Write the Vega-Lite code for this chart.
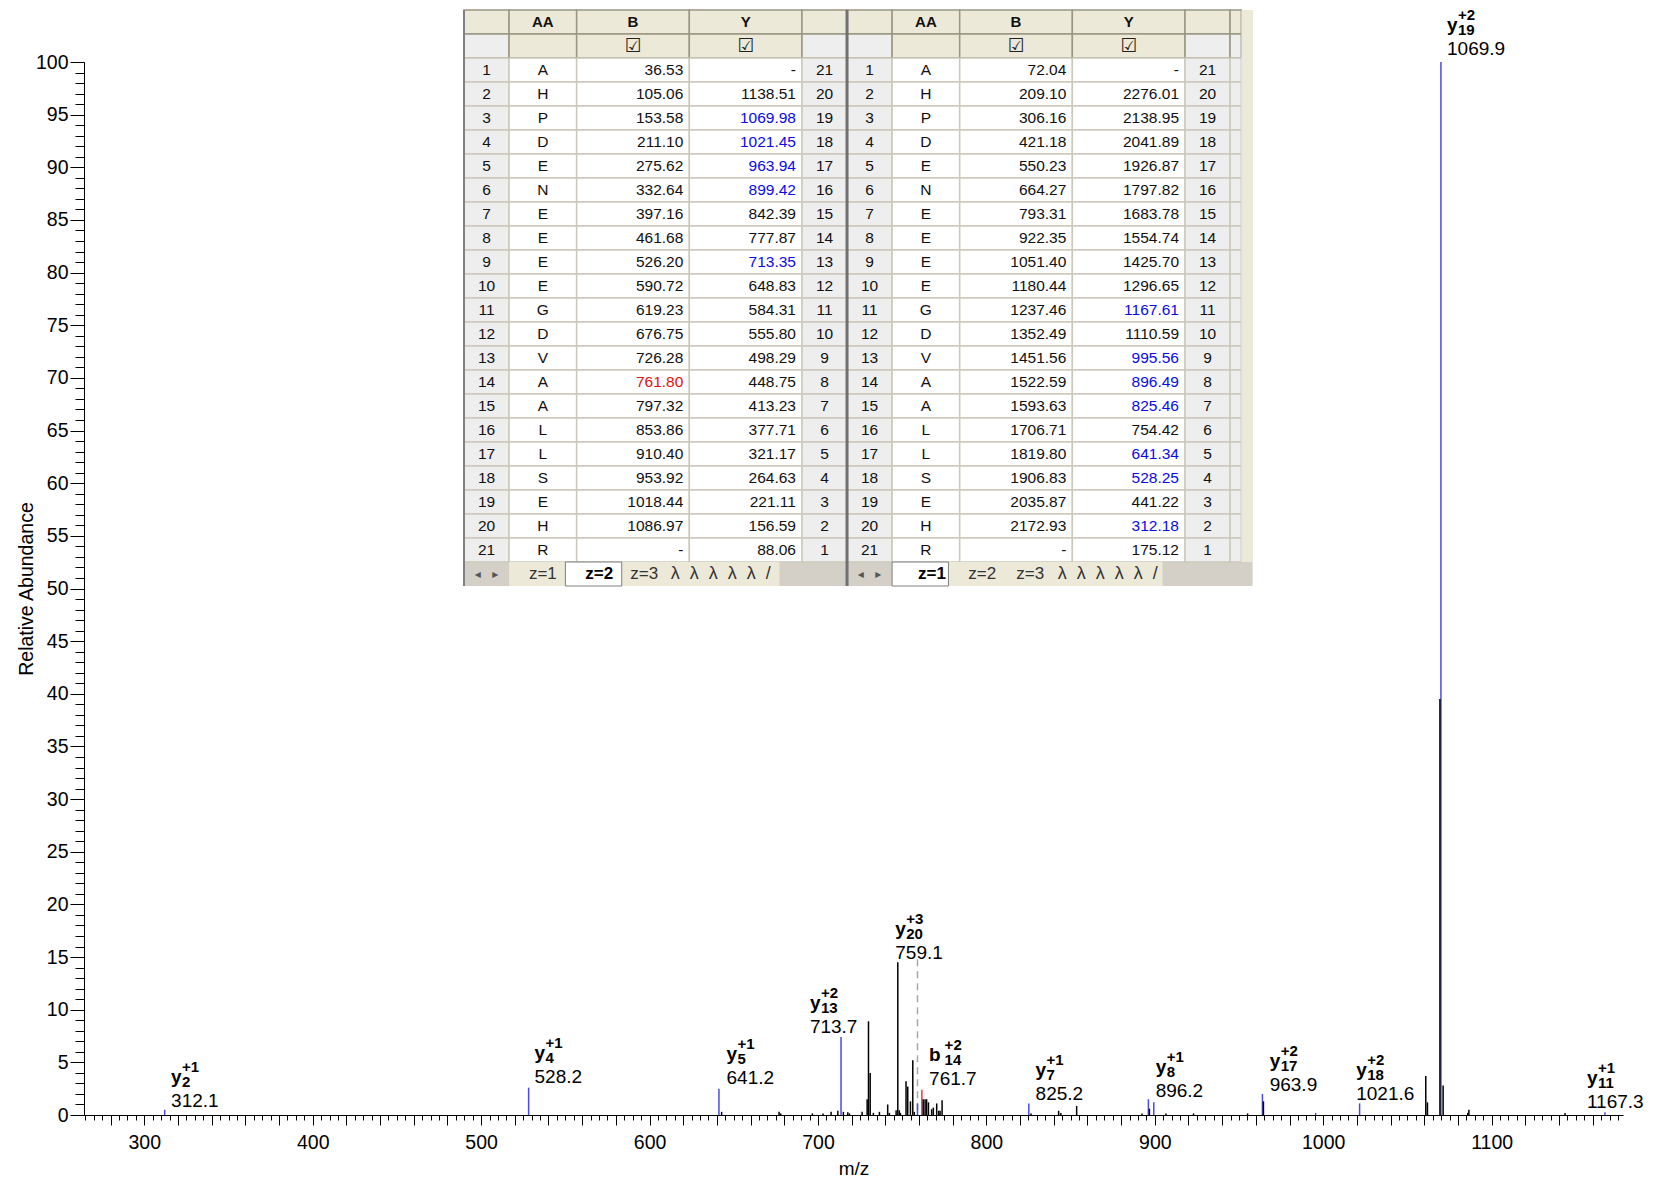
{
"$schema":"https://vega.github.io/schema/vega-lite/v6.json",
"width":1539,"height":1053,
"autosize":{"type":"none"},
"padding":{"left":84,"top":62,"right":30,"bottom":65},
"background":"white",
"config":{"view":{"stroke":null},"text":{"font":"Liberation Sans"}},
"datasets":{
"peaks":[
{"mz":312.1,"ab":0.5,"kind":"y"},{"mz":528.2,"ab":2.6,"kind":"y"},{"mz":641.2,"ab":2.5,"kind":"y"},{"mz":713.7,"ab":7.4,"kind":"y"},{"mz":759.1,"ab":1.1,"kind":"y"},{"mz":825.2,"ab":1.1,"kind":"y"},{"mz":896.2,"ab":1.5,"kind":"y"},{"mz":899.4,"ab":1.2,"kind":"y"},{"mz":963.9,"ab":2.0,"kind":"y"},{"mz":995.5,"ab":0.2,"kind":"y"},{"mz":1021.6,"ab":1.1,"kind":"y"},{"mz":1069.9,"ab":100,"kind":"y"},{"mz":1167.3,"ab":0.25,"kind":"y"},
{"mz":761.7,"ab":2.4,"kind":"b"},
{"mz":642.8,"ab":0.3,"kind":"n"},{"mz":676.9,"ab":0.3,"kind":"n"},{"mz":677.9,"ab":0.15,"kind":"n"},{"mz":696.7,"ab":0.15,"kind":"n"},{"mz":703.0,"ab":0.15,"kind":"n"},{"mz":707.8,"ab":0.3,"kind":"n"},{"mz":711.8,"ab":0.4,"kind":"n"},{"mz":715.1,"ab":0.3,"kind":"n"},{"mz":717.7,"ab":0.25,"kind":"n"},{"mz":718.7,"ab":0.15,"kind":"n"},{"mz":726.2,"ab":0.3,"kind":"n"},{"mz":729.2,"ab":1.5,"kind":"n"},{"mz":730.0,"ab":8.9,"kind":"n"},{"mz":731.0,"ab":4.0,"kind":"n"},{"mz":732.9,"ab":0.2,"kind":"n"},{"mz":736.5,"ab":0.3,"kind":"n"},{"mz":741.4,"ab":1.0,"kind":"n"},{"mz":742.4,"ab":0.2,"kind":"n"},{"mz":746.4,"ab":0.45,"kind":"n"},{"mz":747.4,"ab":14.5,"kind":"n"},{"mz":748.3,"ab":0.45,"kind":"n"},{"mz":749.0,"ab":0.2,"kind":"n"},{"mz":752.3,"ab":3.2,"kind":"n"},{"mz":753.3,"ab":2.7,"kind":"n"},{"mz":754.9,"ab":1.3,"kind":"n"},{"mz":756.3,"ab":5.2,"kind":"n"},{"mz":757.2,"ab":0.3,"kind":"n"},{"mz":762.5,"ab":1.5,"kind":"n"},{"mz":763.6,"ab":1.5,"kind":"n"},{"mz":764.5,"ab":1.5,"kind":"n"},{"mz":765.6,"ab":1.2,"kind":"n"},{"mz":767.5,"ab":0.55,"kind":"n"},{"mz":768.5,"ab":0.7,"kind":"n"},{"mz":770.5,"ab":1.1,"kind":"n"},{"mz":771.7,"ab":0.4,"kind":"n"},{"mz":772.5,"ab":0.4,"kind":"n"},{"mz":773.7,"ab":1.4,"kind":"n"},{"mz":826.5,"ab":0.15,"kind":"n"},{"mz":842.9,"ab":0.4,"kind":"n"},{"mz":844.2,"ab":0.2,"kind":"n"},{"mz":853.6,"ab":0.85,"kind":"n"},{"mz":892.4,"ab":0.15,"kind":"n"},{"mz":896.8,"ab":0.6,"kind":"n"},{"mz":906.6,"ab":0.15,"kind":"n"},{"mz":923.0,"ab":0.15,"kind":"n"},{"mz":955.1,"ab":0.15,"kind":"n"},{"mz":964.5,"ab":1.3,"kind":"n"},{"mz":1060.9,"ab":3.7,"kind":"n"},{"mz":1061.9,"ab":1.2,"kind":"n"},{"mz":1069.3,"ab":39.5,"kind":"n"},{"mz":1071.2,"ab":2.8,"kind":"n"},{"mz":1085.8,"ab":0.2,"kind":"n"},{"mz":1086.5,"ab":0.5,"kind":"n"},{"mz":1143.6,"ab":0.2,"kind":"n"}
],
"ann":[
{"ion":"y","sub":"2","chg":"+1","val":"312.1","mz":312.1,"lmz":315.9,"lab":0.8},
{"ion":"y","sub":"4","chg":"+1","val":"528.2","mz":528.2,"lmz":531.7,"lab":3.0},
{"ion":"y","sub":"5","chg":"+1","val":"641.2","mz":641.2,"lmz":645.7,"lab":2.9},
{"ion":"y","sub":"13","chg":"+2","val":"713.7","mz":713.7,"lmz":695.2,"lab":7.8},
{"ion":"y","sub":"20","chg":"+3","val":"759.1","mz":759.1,"lmz":745.9,"lab":14.8,"dash":true},
{"ion":"b","sub":"14","chg":"+2","val":"761.7","mz":761.7,"lmz":766.0,"lab":2.85},
{"ion":"y","sub":"7","chg":"+1","val":"825.2","mz":825.2,"lmz":829.2,"lab":1.42},
{"ion":"y","sub":"8","chg":"+1","val":"896.2","mz":896.2,"lmz":900.5,"lab":1.74},
{"ion":"y","sub":"17","chg":"+2","val":"963.9","mz":963.9,"lmz":968.2,"lab":2.28},
{"ion":"y","sub":"18","chg":"+2","val":"1021.6","mz":1021.6,"lmz":1019.6,"lab":1.42},
{"ion":"y","sub":"19","chg":"+2","val":"1069.9","mz":1069.9,"lmz":1073.5,"lab":100.66},
{"ion":"y","sub":"11","chg":"+1","val":"1167.3","mz":1167.3,"lmz":1156.6,"lab":0.64}
],
"tbl":[
{"r":"hdr","LAA":"AA","LBc":"B","LYc":"Y","RAA":"AA","RBc":"B","RYc":"Y"},
{"r":"chk","LBc":"☑","LYc":"☑","RBc":"☑","RYc":"☑"},
{"r":"1","Li":"1","LAA":"A","LB":"36.53","LY":"-","Ln":"21","Ri":"1","RAA":"A","RB":"72.04","RY":"-","Rn":"21"},
{"r":"2","Li":"2","LAA":"H","LB":"105.06","LY":"1138.51","Ln":"20","Ri":"2","RAA":"H","RB":"209.10","RY":"2276.01","Rn":"20"},
{"r":"3","Li":"3","LAA":"P","LB":"153.58","LY":"1069.98","LYm":"y","Ln":"19","Ri":"3","RAA":"P","RB":"306.16","RY":"2138.95","Rn":"19"},
{"r":"4","Li":"4","LAA":"D","LB":"211.10","LY":"1021.45","LYm":"y","Ln":"18","Ri":"4","RAA":"D","RB":"421.18","RY":"2041.89","Rn":"18"},
{"r":"5","Li":"5","LAA":"E","LB":"275.62","LY":"963.94","LYm":"y","Ln":"17","Ri":"5","RAA":"E","RB":"550.23","RY":"1926.87","Rn":"17"},
{"r":"6","Li":"6","LAA":"N","LB":"332.64","LY":"899.42","LYm":"y","Ln":"16","Ri":"6","RAA":"N","RB":"664.27","RY":"1797.82","Rn":"16"},
{"r":"7","Li":"7","LAA":"E","LB":"397.16","LY":"842.39","Ln":"15","Ri":"7","RAA":"E","RB":"793.31","RY":"1683.78","Rn":"15"},
{"r":"8","Li":"8","LAA":"E","LB":"461.68","LY":"777.87","Ln":"14","Ri":"8","RAA":"E","RB":"922.35","RY":"1554.74","Rn":"14"},
{"r":"9","Li":"9","LAA":"E","LB":"526.20","LY":"713.35","LYm":"y","Ln":"13","Ri":"9","RAA":"E","RB":"1051.40","RY":"1425.70","Rn":"13"},
{"r":"10","Li":"10","LAA":"E","LB":"590.72","LY":"648.83","Ln":"12","Ri":"10","RAA":"E","RB":"1180.44","RY":"1296.65","Rn":"12"},
{"r":"11","Li":"11","LAA":"G","LB":"619.23","LY":"584.31","Ln":"11","Ri":"11","RAA":"G","RB":"1237.46","RY":"1167.61","RYm":"y","Rn":"11"},
{"r":"12","Li":"12","LAA":"D","LB":"676.75","LY":"555.80","Ln":"10","Ri":"12","RAA":"D","RB":"1352.49","RY":"1110.59","Rn":"10"},
{"r":"13","Li":"13","LAA":"V","LB":"726.28","LY":"498.29","Ln":"9","Ri":"13","RAA":"V","RB":"1451.56","RY":"995.56","RYm":"y","Rn":"9"},
{"r":"14","Li":"14","LAA":"A","LB":"761.80","LBm":"b","LY":"448.75","Ln":"8","Ri":"14","RAA":"A","RB":"1522.59","RY":"896.49","RYm":"y","Rn":"8"},
{"r":"15","Li":"15","LAA":"A","LB":"797.32","LY":"413.23","Ln":"7","Ri":"15","RAA":"A","RB":"1593.63","RY":"825.46","RYm":"y","Rn":"7"},
{"r":"16","Li":"16","LAA":"L","LB":"853.86","LY":"377.71","Ln":"6","Ri":"16","RAA":"L","RB":"1706.71","RY":"754.42","Rn":"6"},
{"r":"17","Li":"17","LAA":"L","LB":"910.40","LY":"321.17","Ln":"5","Ri":"17","RAA":"L","RB":"1819.80","RY":"641.34","RYm":"y","Rn":"5"},
{"r":"18","Li":"18","LAA":"S","LB":"953.92","LY":"264.63","Ln":"4","Ri":"18","RAA":"S","RB":"1906.83","RY":"528.25","RYm":"y","Rn":"4"},
{"r":"19","Li":"19","LAA":"E","LB":"1018.44","LY":"221.11","Ln":"3","Ri":"19","RAA":"E","RB":"2035.87","RY":"441.22","Rn":"3"},
{"r":"20","Li":"20","LAA":"H","LB":"1086.97","LY":"156.59","Ln":"2","Ri":"20","RAA":"H","RB":"2172.93","RY":"312.18","RYm":"y","Rn":"2"},
{"r":"21","Li":"21","LAA":"R","LB":"-","LY":"88.06","Ln":"1","Ri":"21","RAA":"R","RB":"-","RY":"175.12","Rn":"1"},
{"r":"tabs"}
]
},
"layer":[
{
"layer":[
{"data":{"name":"ann"},"transform":[{"filter":"datum.dash === true"}],"mark":{"type":"rule","color":"#A8A8A8","strokeWidth":1.5,"strokeDash":[7,5]},
 "encoding":{"x":{"field":"mz","type":"quantitative","axis":null},"y":{"field":"lab","type":"quantitative","axis":null},"y2":{"datum":0}}},
{"data":{"name":"peaks"},"mark":{"type":"rule","strokeWidth":1.5},
 "encoding":{
  "x":{"field":"mz","type":"quantitative","scale":{"domain":[264.2,1178],"nice":false,"zero":false},
   "axis":{"orient":"bottom","values":[280,300,320,340,360,380,400,420,440,460,480,500,520,540,560,580,600,620,640,660,680,700,720,740,760,780,800,820,840,860,880,900,920,940,960,980,1000,1020,1040,1060,1080,1100,1120,1140,1160],
   "format":"d","labelExpr":"datum.value % 100 === 0 ? datum.label : ''","tickSize":10,"tickColor":"#000000","tickWidth":1,"domainColor":"#000000","domainWidth":1,"labelColor":"#000000","labelFont":"Liberation Sans","labelFontSize":19.5,"labelPadding":8.5,"labelFlush":false,"labelOverlap":false,"grid":false,
   "title":"m/z","titleFont":"Liberation Sans","titleFontSize":19,"titleFontWeight":"normal","titleColor":"#000000","titleBaseline":"alphabetic","titleY":59}},
  "y":{"field":"ab","type":"quantitative","scale":{"domain":[0,100],"nice":false},
   "axis":{"orient":"left","values":[0,5,10,15,20,25,30,35,40,45,50,55,60,65,70,75,80,85,90,95,100],"format":"d","tickSize":14,"tickColor":"#000000","tickWidth":1,"domainColor":"#000000","domainWidth":1,"labelColor":"#000000","labelFont":"Liberation Sans","labelFontSize":19.5,"labelPadding":2,"labelFlush":false,"labelOverlap":false,"grid":false,
   "title":"Relative Abundance","titleFont":"Liberation Sans","titleFontSize":19.5,"titleFontWeight":"normal","titleColor":"#000000","titleAngle":-90,"titleAlign":"center","titleBaseline":"alphabetic","titleX":-52,"titleY":526.5}},
  "y2":{"datum":0},
  "color":{"field":"kind","type":"nominal","scale":{"domain":["n","y","b"],"range":["#000000","#4B4BE0","#E63C3C"]},"legend":null}}},
{"data":{"name":"ann"},"mark":{"type":"text","align":"left","baseline":"alphabetic","font":"Liberation Sans","fontSize":19,"color":"#000000"},
 "encoding":{
  "x":{"field":"lmz","type":"quantitative","axis":{"orient":"bottom","values":[265,270,275,280,285,290,295,300,305,310,315,320,325,330,335,340,345,350,355,360,365,370,375,380,385,390,395,400,405,410,415,420,425,430,435,440,445,450,455,460,465,470,475,480,485,490,495,500,505,510,515,520,525,530,535,540,545,550,555,560,565,570,575,580,585,590,595,600,605,610,615,620,625,630,635,640,645,650,655,660,665,670,675,680,685,690,695,700,705,710,715,720,725,730,735,740,745,750,755,760,765,770,775,780,785,790,795,800,805,810,815,820,825,830,835,840,845,850,855,860,865,870,875,880,885,890,895,900,905,910,915,920,925,930,935,940,945,950,955,960,965,970,975,980,985,990,995,1000,1005,1010,1015,1020,1025,1030,1035,1040,1045,1050,1055,1060,1065,1070,1075,1080,1085,1090,1095,1100,1105,1110,1115,1120,1125,1130,1135,1140,1145,1150,1155,1160,1165,1170,1175],"tickSize":5,"tickColor":"#000000","tickWidth":1,"domain":false,"labels":false,"grid":false,"title":null}},
  "y":{"field":"lab","type":"quantitative","axis":{"orient":"left","values":[0,1,2,3,4,5,6,7,8,9,10,11,12,13,14,15,16,17,18,19,20,21,22,23,24,25,26,27,28,29,30,31,32,33,34,35,36,37,38,39,40,41,42,43,44,45,46,47,48,49,50,51,52,53,54,55,56,57,58,59,60,61,62,63,64,65,66,67,68,69,70,71,72,73,74,75,76,77,78,79,80,81,82,83,84,85,86,87,88,89,90,91,92,93,94,95,96,97,98,99,100],"tickSize":9,"tickColor":"#000000","tickWidth":1,"domain":false,"labels":false,"grid":false,"title":null}},
  "text":{"field":"val"}}},
{"data":{"name":"ann"},"mark":{"type":"text","align":"left","baseline":"alphabetic","font":"Liberation Sans","fontSize":19,"fontWeight":"bold","dy":-24,"color":"#000000"},
 "encoding":{"x":{"field":"lmz","type":"quantitative","axis":null},"y":{"field":"lab","type":"quantitative","axis":null},"text":{"field":"ion"}}},
{"data":{"name":"ann"},"transform":[{"filter":"datum.ion === 'y'"}],"mark":{"type":"text","align":"left","baseline":"alphabetic","font":"Liberation Sans","fontSize":15,"fontWeight":"bold","dx":11,"dy":-20,"color":"#000000"},
 "encoding":{"x":{"field":"lmz","type":"quantitative","axis":null},"y":{"field":"lab","type":"quantitative","axis":null},"text":{"field":"sub"}}},
{"data":{"name":"ann"},"transform":[{"filter":"datum.ion === 'y'"}],"mark":{"type":"text","align":"left","baseline":"alphabetic","font":"Liberation Sans","fontSize":15,"fontWeight":"bold","dx":11,"dy":-35,"color":"#000000"},
 "encoding":{"x":{"field":"lmz","type":"quantitative","axis":null},"y":{"field":"lab","type":"quantitative","axis":null},"text":{"field":"chg"}}},
{"data":{"name":"ann"},"transform":[{"filter":"datum.ion === 'b'"}],"mark":{"type":"text","align":"left","baseline":"alphabetic","font":"Liberation Sans","fontSize":15,"fontWeight":"bold","dx":15.5,"dy":-20,"color":"#000000"},
 "encoding":{"x":{"field":"lmz","type":"quantitative","axis":null},"y":{"field":"lab","type":"quantitative","axis":null},"text":{"field":"sub"}}},
{"data":{"name":"ann"},"transform":[{"filter":"datum.ion === 'b'"}],"mark":{"type":"text","align":"left","baseline":"alphabetic","font":"Liberation Sans","fontSize":15,"fontWeight":"bold","dx":15.5,"dy":-35,"color":"#000000"},
 "encoding":{"x":{"field":"lmz","type":"quantitative","axis":null},"y":{"field":"lab","type":"quantitative","axis":null},"text":{"field":"chg"}}}
],
"resolve":{"axis":{"x":"independent","y":"independent"}}
},
{
"data":{"name":"tbl"},
"layer":[
{"mark":{"type":"rect","fill":"#D4D0C8"},
 "encoding":{"x":{"datum":"|L0","type":"nominal","axis":null,"scale":{"type":"point","padding":0,"range":[380,1168.6],"domain":["|L0","_1","Li","_3","|L1","_5","_6","LAA","_8","_9","|L2","_11","_12","_13","_14","LBc","_16","_17","_18","_19","LB","_21","_22","_23","_24","LYc","_26","_27","_28","_29","LY","_31","Ln","_33","|M","_35","Ri","_37","|R1","_39","_40","RAA","_42","_43","|R2","_45","_46","_47","_48","RBc","_50","_51","_52","_53","RB","_55","_56","_57","_58","RYc","_60","_61","_62","_63","RY","_65","Rn","_67","|R5","|R6","|R7"]}},
  "x2":{"datum":"|R7"},
  "y":{"field":"r","type":"nominal","axis":null,"scale":{"type":"band","paddingInner":0,"paddingOuter":0,"range":[-52,524],"domain":["hdr","chk","1","2","3","4","5","6","7","8","9","10","11","12","13","14","15","16","17","18","19","20","21","tabs"]}}}},
{"transform":[{"filter":"datum.r !== 'tabs'"}],"mark":{"type":"rect","strokeWidth":1.5},
 "encoding":{"x":{"datum":"|L0","type":"nominal","axis":null},"x2":{"datum":"|L1"},"y":{"field":"r","type":"nominal","axis":null},
  "fill":{"condition":{"test":"datum.r === 'hdr'","value":"#ECE9D8"},"value":"#EEEEEE"},
  "stroke":{"condition":{"test":"datum.r === 'hdr' || datum.r === 'chk'","value":"#9A9684"},"value":"#CCC8BA"}}},
{"transform":[{"filter":"datum.r !== 'tabs'"}],"mark":{"type":"rect","strokeWidth":1.5},
 "encoding":{"x":{"datum":"|L1","type":"nominal","axis":null},"x2":{"datum":"|L2"},"y":{"field":"r","type":"nominal","axis":null},
  "fill":{"condition":{"test":"datum.r === 'hdr' || datum.r === 'chk'","value":"#ECE9D8"},"value":"#FFFFFF"},
  "stroke":{"condition":{"test":"datum.r === 'hdr' || datum.r === 'chk'","value":"#9A9684"},"value":"#CCC8BA"}}},
{"transform":[{"filter":"datum.r !== 'tabs'"}],"mark":{"type":"rect","strokeWidth":1.5},
 "encoding":{"x":{"datum":"|L2","type":"nominal","axis":null},"x2":{"datum":"LB"},"y":{"field":"r","type":"nominal","axis":null},
  "fill":{"condition":{"test":"datum.r === 'hdr' || datum.r === 'chk'","value":"#ECE9D8"},"value":"#FFFFFF"},
  "stroke":{"condition":{"test":"datum.r === 'hdr' || datum.r === 'chk'","value":"#9A9684"},"value":"#CCC8BA"}}},
{"transform":[{"filter":"datum.r !== 'tabs'"}],"mark":{"type":"rect","strokeWidth":1.5},
 "encoding":{"x":{"datum":"LB","type":"nominal","axis":null},"x2":{"datum":"LY"},"y":{"field":"r","type":"nominal","axis":null},
  "fill":{"condition":{"test":"datum.r === 'hdr' || datum.r === 'chk'","value":"#ECE9D8"},"value":"#FFFFFF"},
  "stroke":{"condition":{"test":"datum.r === 'hdr' || datum.r === 'chk'","value":"#9A9684"},"value":"#CCC8BA"}}},
{"transform":[{"filter":"datum.r !== 'tabs'"}],"mark":{"type":"rect","strokeWidth":1.5},
 "encoding":{"x":{"datum":"LY","type":"nominal","axis":null},"x2":{"datum":"|M"},"y":{"field":"r","type":"nominal","axis":null},
  "fill":{"condition":{"test":"datum.r === 'hdr'","value":"#ECE9D8"},"value":"#EEEEEE"},
  "stroke":{"condition":{"test":"datum.r === 'hdr' || datum.r === 'chk'","value":"#9A9684"},"value":"#CCC8BA"}}},
{"transform":[{"filter":"datum.r !== 'tabs'"}],"mark":{"type":"rect","strokeWidth":1.5},
 "encoding":{"x":{"datum":"|M","type":"nominal","axis":null},"x2":{"datum":"|R1"},"y":{"field":"r","type":"nominal","axis":null},
  "fill":{"condition":{"test":"datum.r === 'hdr'","value":"#ECE9D8"},"value":"#EEEEEE"},
  "stroke":{"condition":{"test":"datum.r === 'hdr' || datum.r === 'chk'","value":"#9A9684"},"value":"#CCC8BA"}}},
{"transform":[{"filter":"datum.r !== 'tabs'"}],"mark":{"type":"rect","strokeWidth":1.5},
 "encoding":{"x":{"datum":"|R1","type":"nominal","axis":null},"x2":{"datum":"|R2"},"y":{"field":"r","type":"nominal","axis":null},
  "fill":{"condition":{"test":"datum.r === 'hdr' || datum.r === 'chk'","value":"#ECE9D8"},"value":"#FFFFFF"},
  "stroke":{"condition":{"test":"datum.r === 'hdr' || datum.r === 'chk'","value":"#9A9684"},"value":"#CCC8BA"}}},
{"transform":[{"filter":"datum.r !== 'tabs'"}],"mark":{"type":"rect","strokeWidth":1.5},
 "encoding":{"x":{"datum":"|R2","type":"nominal","axis":null},"x2":{"datum":"RB"},"y":{"field":"r","type":"nominal","axis":null},
  "fill":{"condition":{"test":"datum.r === 'hdr' || datum.r === 'chk'","value":"#ECE9D8"},"value":"#FFFFFF"},
  "stroke":{"condition":{"test":"datum.r === 'hdr' || datum.r === 'chk'","value":"#9A9684"},"value":"#CCC8BA"}}},
{"transform":[{"filter":"datum.r !== 'tabs'"}],"mark":{"type":"rect","strokeWidth":1.5},
 "encoding":{"x":{"datum":"RB","type":"nominal","axis":null},"x2":{"datum":"RY"},"y":{"field":"r","type":"nominal","axis":null},
  "fill":{"condition":{"test":"datum.r === 'hdr' || datum.r === 'chk'","value":"#ECE9D8"},"value":"#FFFFFF"},
  "stroke":{"condition":{"test":"datum.r === 'hdr' || datum.r === 'chk'","value":"#9A9684"},"value":"#CCC8BA"}}},
{"transform":[{"filter":"datum.r !== 'tabs'"}],"mark":{"type":"rect","strokeWidth":1.5},
 "encoding":{"x":{"datum":"RY","type":"nominal","axis":null},"x2":{"datum":"|R5"},"y":{"field":"r","type":"nominal","axis":null},
  "fill":{"condition":{"test":"datum.r === 'hdr'","value":"#ECE9D8"},"value":"#EEEEEE"},
  "stroke":{"condition":{"test":"datum.r === 'hdr' || datum.r === 'chk'","value":"#9A9684"},"value":"#CCC8BA"}}},
{"transform":[{"filter":"datum.r !== 'tabs'"}],"mark":{"type":"rect","strokeWidth":1.5},
 "encoding":{"x":{"datum":"|R5","type":"nominal","axis":null},"x2":{"datum":"|R6"},"y":{"field":"r","type":"nominal","axis":null},
  "fill":{"condition":{"test":"datum.r === 'hdr'","value":"#ECE9D8"},"value":"#EEEEEE"},
  "stroke":{"condition":{"test":"datum.r === 'hdr' || datum.r === 'chk'","value":"#9A9684"},"value":"#CCC8BA"}}},
{"transform":[{"filter":"datum.r !== 'tabs'"}],"mark":{"type":"rect","fill":"#ECE9D8"},
 "encoding":{"x":{"datum":"|R6","type":"nominal","axis":null},"x2":{"datum":"|R7"},"y":{"field":"r","type":"nominal","axis":null}}},
{"mark":{"type":"rect","fill":null,"stroke":"#707070","strokeWidth":3},
 "encoding":{"x":{"datum":"|M","type":"nominal","axis":null},"x2":{"datum":"|M"},"y":{"field":"r","type":"nominal","axis":null}}},
{"mark":{"type":"rect","fill":null,"stroke":"#808080","strokeWidth":2},
 "encoding":{"x":{"datum":"|L0","type":"nominal","axis":null},"x2":{"datum":"|L0"},"y":{"field":"r","type":"nominal","axis":null}}},
{"data":{"values":[{}]},"mark":{"type":"rect","fill":"#ECE9D8"},
 "encoding":{"x":{"datum":"|L1","type":"nominal","axis":null},"x2":{"datum":"_28"},"y":{"datum":"tabs","type":"nominal","axis":null}}},
{"data":{"values":[{}]},"mark":{"type":"rect","fill":"#ECE9D8"},
 "encoding":{"x":{"datum":"|R1","type":"nominal","axis":null},"x2":{"datum":"_62"},"y":{"datum":"tabs","type":"nominal","axis":null}}},
{"data":{"values":[{}]},"mark":{"type":"rect","fill":"#FFFFFF","stroke":"#7F7F7F","strokeWidth":1},
 "encoding":{"x":{"datum":"_9","type":"nominal","axis":null},"x2":{"datum":"_14"},"y":{"datum":"tabs","type":"nominal","axis":null}}},
{"data":{"values":[{}]},"mark":{"type":"rect","fill":"#FFFFFF","stroke":"#7F7F7F","strokeWidth":1},
 "encoding":{"x":{"datum":"|R1","type":"nominal","axis":null},"x2":{"datum":"_43"},"y":{"datum":"tabs","type":"nominal","axis":null}}},
{"transform":[{"fold":["Li","LAA","Ln","Ri","RAA","Rn"]},{"filter":"datum.value != null && datum.r !== 'hdr'"}],
 "mark":{"type":"text","align":"center","baseline":"middle","font":"Liberation Sans","fontSize":15.5,"color":"#111111"},
 "encoding":{"x":{"field":"key","type":"nominal","axis":null},"y":{"field":"r","type":"nominal","axis":null},"text":{"field":"value"}}},
{"transform":[{"fold":["LB","LY","RB","RY"]},{"filter":"datum.value != null"}],
 "mark":{"type":"text","align":"right","baseline":"middle","font":"Liberation Sans","fontSize":15.5,"dx":-6},
 "encoding":{"x":{"field":"key","type":"nominal","axis":null},"y":{"field":"r","type":"nominal","axis":null},"text":{"field":"value"},
  "color":{"condition":[{"test":"(datum.key === 'LY' && datum.LYm === 'y') || (datum.key === 'RY' && datum.RYm === 'y')","value":"#0A0AE8"},{"test":"datum.key === 'LB' && datum.LBm === 'b'","value":"#E01010"}],"value":"#111111"}}},
{"transform":[{"fold":["LAA","LBc","LYc","RAA","RBc","RYc"]},{"filter":"datum.value != null && datum.r === 'hdr'"}],
 "mark":{"type":"text","align":"center","baseline":"middle","font":"Liberation Sans","fontSize":15,"fontWeight":"bold","color":"#111111"},
 "encoding":{"x":{"field":"key","type":"nominal","axis":null},"y":{"field":"r","type":"nominal","axis":null},"text":{"field":"value"}}},
{"transform":[{"fold":["LBc","LYc","RBc","RYc"]},{"filter":"datum.value != null && datum.r === 'chk'"}],
 "mark":{"type":"text","align":"center","baseline":"middle","font":"DejaVu Sans","fontSize":19,"color":"#222222"},
 "encoding":{"x":{"field":"key","type":"nominal","axis":null},"y":{"field":"r","type":"nominal","axis":null},"text":{"field":"value"}}},
{"data":{"values":[{}]},"mark":{"type":"text","text":"◂\u00a0\u00a0\u00a0▸","font":"DejaVu Sans","fontSize":12,"color":"#555555"},
 "encoding":{"x":{"datum":"Li","type":"nominal","axis":null},"y":{"datum":"tabs","type":"nominal","axis":null}}},
{"data":{"values":[{}]},"mark":{"type":"text","text":"z=1","font":"Liberation Sans","fontSize":17,"color":"#333333"},
 "encoding":{"x":{"datum":"LAA","type":"nominal","axis":null},"y":{"datum":"tabs","type":"nominal","axis":null}}},
{"data":{"values":[{}]},"mark":{"type":"text","text":"z=2","font":"Liberation Sans","fontSize":17,"fontWeight":"bold","color":"#000000"},
 "encoding":{"x":{"datum":"_12","type":"nominal","axis":null},"y":{"datum":"tabs","type":"nominal","axis":null}}},
{"data":{"values":[{}]},"mark":{"type":"text","text":"z=3","font":"Liberation Sans","fontSize":17,"color":"#333333"},
 "encoding":{"x":{"datum":"_16","type":"nominal","axis":null},"y":{"datum":"tabs","type":"nominal","axis":null}}},
{"data":{"values":[{}]},"mark":{"type":"text","text":"λ\u00a0\u00a0λ\u00a0\u00a0λ\u00a0\u00a0λ\u00a0\u00a0λ\u00a0\u00a0/","align":"left","font":"Liberation Sans","fontSize":18,"color":"#333333","dx":4},
 "encoding":{"x":{"datum":"_18","type":"nominal","axis":null},"y":{"datum":"tabs","type":"nominal","axis":null}}},
{"data":{"values":[{}]},"mark":{"type":"text","text":"◂\u00a0\u00a0\u00a0▸","font":"DejaVu Sans","fontSize":12,"color":"#555555"},
 "encoding":{"x":{"datum":"Ri","type":"nominal","axis":null},"y":{"datum":"tabs","type":"nominal","axis":null}}},
{"data":{"values":[{}]},"mark":{"type":"text","text":"z=1","font":"Liberation Sans","fontSize":17,"fontWeight":"bold","color":"#000000","dx":6},
 "encoding":{"x":{"datum":"RAA","type":"nominal","axis":null},"y":{"datum":"tabs","type":"nominal","axis":null}}},
{"data":{"values":[{}]},"mark":{"type":"text","text":"z=2","font":"Liberation Sans","fontSize":17,"color":"#333333"},
 "encoding":{"x":{"datum":"_46","type":"nominal","axis":null},"y":{"datum":"tabs","type":"nominal","axis":null}}},
{"data":{"values":[{}]},"mark":{"type":"text","text":"z=3","font":"Liberation Sans","fontSize":17,"color":"#333333","dx":3},
 "encoding":{"x":{"datum":"_50","type":"nominal","axis":null},"y":{"datum":"tabs","type":"nominal","axis":null}}},
{"data":{"values":[{}]},"mark":{"type":"text","text":"λ\u00a0\u00a0λ\u00a0\u00a0λ\u00a0\u00a0λ\u00a0\u00a0λ\u00a0\u00a0/","align":"left","font":"Liberation Sans","fontSize":18,"color":"#333333","dx":8},
 "encoding":{"x":{"datum":"_52","type":"nominal","axis":null},"y":{"datum":"tabs","type":"nominal","axis":null}}}
]
}
],
"resolve":{"scale":{"x":"independent","y":"independent"}}
}
